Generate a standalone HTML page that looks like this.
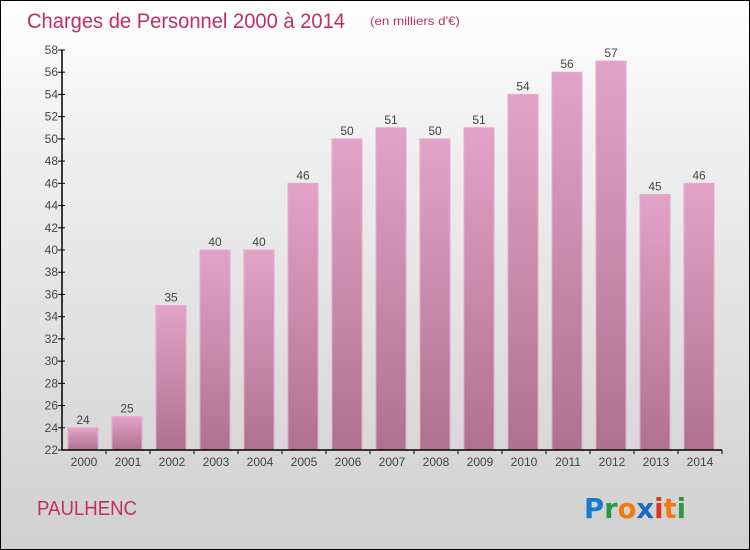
<!DOCTYPE html>
<html><head><meta charset="utf-8"><style>
body{margin:0;}
#c{position:relative;width:748px;height:548px;border:1px solid #000;background:linear-gradient(#ffffff,#f0f0f0 25%,#d0d0d0);font-family:"Liberation Sans","DejaVu Sans",sans-serif;overflow:hidden}
</style></head><body>
<div id="c">
<svg id="s" width="748" height="548">
<defs><linearGradient id="g" x1="0" y1="0" x2="0" y2="1"><stop offset="0" stop-color="#e3a3c9"/><stop offset="1" stop-color="#b0708f"/></linearGradient></defs>
<text x="26" y="27" font-size="21" fill="#c0305f" textLength="318" lengthAdjust="spacingAndGlyphs">Charges de Personnel 2000 à 2014</text>
<text x="369" y="24" font-size="12" fill="#c0305f" textLength="90" lengthAdjust="spacingAndGlyphs">(en milliers d'€)</text>
<text x="36" y="514" font-size="20" fill="#c0305f" textLength="100" lengthAdjust="spacingAndGlyphs">PAULHENC</text>
<g font-size="28" font-weight="bold" font-family="'DejaVu Sans',sans-serif">
<text x="583" y="517" textLength="102" lengthAdjust="spacingAndGlyphs"><tspan fill="#1a7ad0">P</tspan><tspan fill="#2a9a40">r</tspan><tspan fill="#f07a10">o</tspan><tspan fill="#1a6ac0">x</tspan><tspan fill="#e03020">i</tspan><tspan fill="#f07a10">t</tspan><tspan fill="#2a9a40">i</tspan></text></g>
<g id="plot"></g>
</svg></div>
<script>
const years=["2000","2001","2002","2003","2004","2005","2006","2007","2008","2009","2010","2011","2012","2013","2014"];
const values=[24,25,35,40,40,46,50,51,50,51,54,56,57,45,46];
const yTicks=[22,24,26,28,30,32,34,36,38,40,42,44,46,48,50,52,54,56,58];
const NS="http://www.w3.org/2000/svg";
const g=document.getElementById('plot');
const x0=61,x1=721,yb=449,yt=49,ymin=22,ymax=58;
const band=(x1-x0)/years.length;
function y(v){return yb-(v-ymin)/(ymax-ymin)*(yb-yt);}
function mk(t,a){const e=document.createElementNS(NS,t);for(const k in a)e.setAttribute(k,a[k]);g.appendChild(e);return e;}
values.forEach((v,i)=>{
const bx=x0+i*band+6;
const r=mk('rect',{x:bx,y:y(v),width:30,height:yb-y(v),fill:'url(#g)',stroke:'#e6a8cc','stroke-width':1});


const t=mk('text',{x:bx+15,y:y(v)-4,'font-size':12,fill:'#444','text-anchor':'middle'});t.textContent=v;


const xl=mk('text',{x:x0+i*band+band/2,y:yb+16,'font-size':12,fill:'#444','text-anchor':'middle'});xl.textContent=years[i];


mk('line',{x1:x0+(i+1)*band,x2:x0+(i+1)*band,y1:yb,y2:yb+4,stroke:'#000'});
});
yTicks.forEach(v=>{
mk('line',{x1:x0-4,x2:x0+3,y1:y(v),y2:y(v),stroke:'#000'});
const t=mk('text',{x:x0-4,y:y(v)+4,'font-size':12,fill:'#444','text-anchor':'end'});t.textContent=v;


});
const ya=mk('line',{x1:x0,x2:x0,y1:yt,y2:yb,stroke:'#000','stroke-width':1.5});


const xa=mk('line',{x1:x0,x2:x1,y1:yb,y2:yb,stroke:'#000','stroke-width':1.5});


</script>
</body></html>
